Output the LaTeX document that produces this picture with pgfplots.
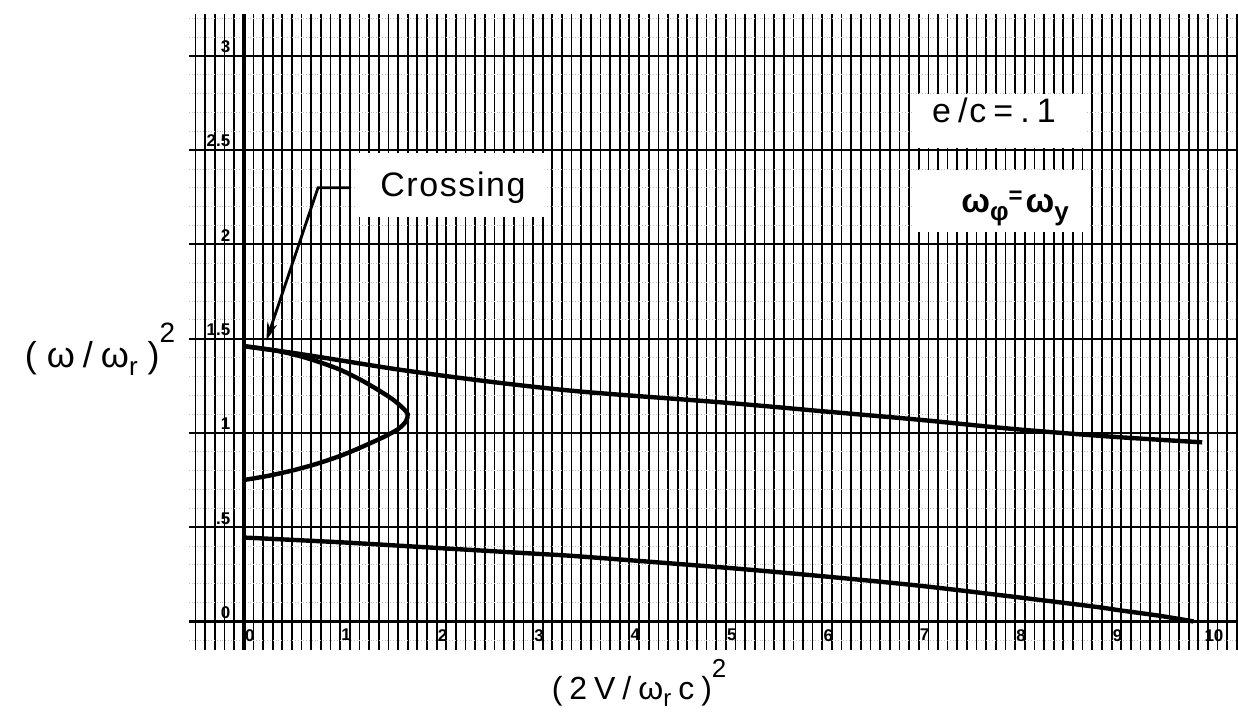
\documentclass[border=0pt]{standalone}
\usepackage{fontspec}
\setmainfont{Liberation Sans}
\usepackage{pgfplots}
\pgfplotsset{compat=1.18}
\usetikzlibrary{arrows.meta}

\newcommand{\gp}{\hspace{3.5pt}}

\begin{document}
\begin{tikzpicture}
\begin{axis}[
    x=48.25pt, y=94.35pt,
    xmin=-0.57, xmax=10.3,
    ymin=-0.15, ymax=3.22,
    clip=false,
    axis line style={draw=none},
    xtick={-1,0,...,11},
    ytick={-0.5,0,...,3.5},
    minor x tick num=9,
    minor y tick num=4,
    major tick length=0pt,
    minor tick length=0pt,
    grid=both,
    major x grid style={black, line width=0.95pt},
    minor x grid style={black, line width=0.85pt},
    major y grid style={black, line width=1.1pt},
    minor y grid style={black!25, line width=0.4pt, densely dotted},
    /pgf/number format/assume math mode=true,
    xticklabel style={font=\bfseries\fontsize{8.5}{8.5}\selectfont,
        anchor=north, inner sep=0.5pt, yshift=11pt, xshift=3pt},
    yticklabel={\pgfmathprintnumber[skip 0.]{\tick}},
    yticklabel style={font=\bfseries\fontsize{8.5}{8.5}\selectfont,
        anchor=south east, inner sep=0.5pt, xshift=21.5pt, yshift=0.8pt},
]

% picture frame (whole page)
\path (axis cs:-2.528,-0.498) rectangle (axis cs:10.30,3.296);

% y axis drawn heavier
\draw[black, line width=1.8pt] (axis cs:0,-0.15) -- (axis cs:0,3.22);

% upper branch
\addplot[black, line width=2.2pt, smooth] coordinates {
    (0,1.46)(0.5,1.425)(1,1.385)(1.62,1.335)(2.5,1.275)(3.48,1.22)
    (5,1.16)(6,1.115)(7,1.07)(8,1.02)(9,0.98)(9.94,0.95)
};

% loop
\addplot[black, line width=2.2pt, smooth] coordinates {
    (0,1.46)(0.2,1.447)(0.4,1.43)(0.6,1.405)(0.8,1.373)(1.0,1.335)
    (1.2,1.285)(1.4,1.226)(1.55,1.176)(1.65,1.132)(1.70,1.10)(1.68,1.06)
    (1.6,1.02)(1.45,0.978)(1.2,0.92)(1.0,0.878)(0.75,0.835)(0.5,0.80)
    (0.25,0.772)(0,0.75)
};

% lower branch
\addplot[black, line width=2.2pt, smooth] coordinates {
    (0,0.445)(1,0.42)(2,0.39)(3,0.36)(3.48,0.345)(5,0.285)(6,0.24)
    (7,0.19)(8,0.13)(8.8,0.08)(9.1,0.058)(9.5,0.03)(9.85,0)
};

% Crossing label
\fill[white] (axis cs:1.15,2.485) rectangle (axis cs:3.14,2.145);
\node[anchor=base, font=\fontsize{17}{17}\selectfont]
    at (axis cs:2.17,2.252) {C\hspace{0.8pt}r\hspace{0.8pt}o\hspace{0.8pt}s\hspace{0.8pt}s\hspace{0.8pt}i\hspace{0.8pt}n\hspace{0.8pt}g};
\draw[black, line width=1.4pt, -{Stealth[length=9pt,width=5pt]}]
    (axis cs:1.1,2.30) -- (axis cs:0.77,2.30) -- (axis cs:0.235,1.49);

% e/c box
\fill[white] (axis cs:6.93,2.51) rectangle (axis cs:8.72,2.80);
\node[anchor=base, font=\fontsize{17}{17}\selectfont]
    at (axis cs:7.78,2.645) {e\gp/\hspace{1pt}c\gp=\gp.\gp1};

% omega box
\fill[white] (axis cs:6.93,2.065) rectangle (axis cs:8.77,2.395);
\node[anchor=base east, font=\bfseries\fontsize{17}{17}\selectfont]
    at (axis cs:8.63,2.167) {ω\raisebox{-0.45ex}{\fontsize{13}{13}\selectfont φ}\raisebox{0.5ex}{\fontsize{12}{12}\selectfont =}\hspace{1.5pt}ω\raisebox{-0.45ex}{\fontsize{13}{13}\selectfont y}};

% axis labels
\node[anchor=base, font=\fontsize{16}{16}\selectfont]
    at (axis cs:4.10,-0.413) {(\gp2\gp V\gp/\gp ω\raisebox{-0.4ex}{\fontsize{12}{12}\selectfont r}\gp c\gp)\raisebox{1.3ex}{\fontsize{13}{13}\selectfont 2}};
\node[anchor=base, font=\fontsize{18}{18}\selectfont]
    at (axis cs:-1.49,1.346) {(\hspace{5pt}ω\hspace{4pt}/\hspace{4pt}ω\raisebox{-0.4ex}{\fontsize{13}{13}\selectfont r}\hspace{5pt})\raisebox{1.3ex}{\fontsize{14}{14}\selectfont 2}};

\end{axis}
\end{tikzpicture}
\end{document}
